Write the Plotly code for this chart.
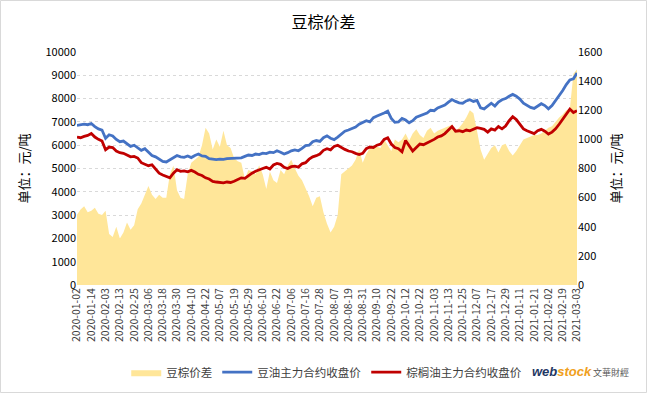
import plotly.graph_objects as go

# Tick labels (every 8th trading day)
tick_labels = [
    "2020-01-02", "2020-01-14", "2020-02-03", "2020-02-13", "2020-02-25", "2020-03-06",
    "2020-03-18", "2020-03-30", "2020-04-10", "2020-04-22", "2020-05-07", "2020-05-19",
    "2020-05-29", "2020-06-10", "2020-06-22", "2020-07-06", "2020-07-16", "2020-07-28",
    "2020-08-07", "2020-08-19", "2020-08-31", "2020-09-10", "2020-09-22", "2020-10-12",
    "2020-10-22", "2020-11-03", "2020-11-13", "2020-11-25", "2020-12-07", "2020-12-17",
    "2020-12-29", "2021-01-11", "2021-01-21", "2021-02-02", "2021-02-19", "2021-03-03",
]

# Values sampled every 2 trading days
soy_oil = [
    6850, 6870, 6900, 6880, 6930, 6800, 6700, 6650, 6300, 6450,
    6400, 6250, 6150, 6180, 6050, 5950, 6000, 5900, 5780, 5850,
    5700, 5560, 5500, 5380, 5300, 5280, 5380, 5450, 5560, 5500,
    5480, 5540, 5470, 5560, 5620, 5540, 5520, 5420, 5400, 5380,
    5400, 5390, 5420, 5430, 5450, 5480, 5460, 5520, 5580, 5560,
    5620, 5600, 5660, 5640, 5700, 5680, 5760, 5700, 5620, 5680,
    5760, 5800, 5760, 5860, 5980, 6000, 6150, 6200, 6160, 6320,
    6400, 6300, 6240, 6350, 6480, 6600, 6650, 6720, 6780, 6900,
    6980, 7050, 7000, 7180, 7250, 7300, 7380, 7460, 7150, 6980,
    7000, 7150, 7080, 6960, 7050, 7200, 7260, 7300, 7380, 7500,
    7480, 7600, 7650, 7720, 7850, 7960, 7880, 7820, 7800, 7900,
    7950, 7880, 7920, 7600, 7560, 7700, 7800, 7680, 7850, 7950,
    8000, 8100, 8180, 8100, 7980, 7800, 7700, 7620, 7580, 7700,
    7780, 7700, 7560, 7700, 7900, 8100, 8350, 8600, 8800, 8850,
    9100,
]

palm_oil = [
    6350, 6320, 6380, 6420, 6500, 6350, 6250, 6180, 5800, 5920,
    5900, 5750, 5680, 5650, 5580, 5500, 5520, 5450, 5250, 5200,
    5120, 5160, 4980, 4800, 4720, 4650, 4600, 4800, 4950, 4880,
    4900, 4860, 4920, 4850, 4750, 4700, 4600, 4550, 4450, 4420,
    4400, 4380, 4420, 4400, 4450, 4520, 4600, 4580, 4700, 4800,
    4880, 4950, 5000, 5050, 4980, 5150, 5220, 5180, 5050, 5000,
    5080, 5100, 5060, 5200, 5250, 5400, 5500, 5550, 5620, 5780,
    5850, 5800, 5950, 6000, 5900, 5820, 5750, 5720, 5650, 5600,
    5650, 5850, 5920, 5900, 6000, 6050, 6250, 6320, 6050, 5900,
    5850, 5720, 6200, 5950, 5750, 5900, 6050, 6020, 6100, 6150,
    6250, 6350, 6400, 6500, 6650, 6800, 6600, 6620, 6580, 6650,
    6620, 6700, 6750, 6720, 6680, 6560, 6700, 6650, 6800, 6700,
    6820, 7050, 7220, 7100, 6900, 6700, 6620, 6560, 6500, 6620,
    6680, 6600, 6480, 6560, 6700, 6900, 7100, 7350, 7550, 7400,
    7480,
]

spread = [
    483, 518, 540, 500, 510, 530, 490, 480, 510, 350,
    330, 400, 320, 360, 430, 380, 410, 520, 560, 620,
    680, 620, 590, 620, 600, 600, 760, 820, 650, 600,
    590, 760, 840, 860, 880, 960, 1080, 1040, 930, 1000,
    950, 1060, 960, 940, 870, 850, 840, 730, 790, 780,
    760, 820, 760, 660, 780, 720, 700, 790, 760, 820,
    860, 800, 750, 720, 670, 610, 540, 600, 610, 500,
    420, 360, 400, 480, 760, 780, 800, 820, 860, 930,
    840, 900, 940, 960, 950, 940, 1000, 960, 920, 1000,
    980, 1000, 1040, 990, 1040, 1070, 1030, 1010, 1060, 1080,
    1040, 1060, 1070, 1080, 1090, 1100, 1060, 1080, 1110, 1150,
    1200, 1180, 1060, 930, 860, 900, 940, 960, 910, 960,
    970, 920, 890, 920, 960, 1000, 1010, 1020, 1030, 1030,
    1040, 1060, 1080, 1090, 1120, 1150, 1170, 1200, 1210, 1450,
    1480,
]

step = 2
x_idx = [i * step for i in range(len(spread))]
tick_pos = [i * 8 for i in range(len(tick_labels))]

FONT = "Noto Sans CJK SC"

fig = go.Figure()
# Area (spread) on base axis y (drawn right side) so price lines (overlay y2) render on top
fig.add_trace(go.Scatter(
    x=x_idx, y=spread, name="豆棕价差", yaxis="y",
    mode="lines", line=dict(width=0, color="#FFE699"),
    fill="tozeroy", fillcolor="#FFE699",
))
fig.add_trace(go.Scatter(
    x=x_idx, y=soy_oil, name="豆油主力合约收盘价", yaxis="y2",
    mode="lines", line=dict(width=2.8, color="#4472C4"),
))
fig.add_trace(go.Scatter(
    x=x_idx, y=palm_oil, name="棕榈油主力合约收盘价", yaxis="y2",
    mode="lines", line=dict(width=2.8, color="#C00000"),
))

fig.update_layout(
    width=647, height=393,
    margin=dict(l=77, r=70, t=52, b=108, autoexpand=False),
    paper_bgcolor="white", plot_bgcolor="white",
    font=dict(family=FONT, size=11, color="#404040"),
    title=dict(text="豆棕价差", x=0.5, xanchor="center", y=0.944, yanchor="middle",
               font=dict(family=FONT, size=16, color="#000000")),
    showlegend=True,
    legend=dict(orientation="h", xref="container", yref="container",
                x=0.505, xanchor="center", y=0.053, yanchor="middle",
                font=dict(family=FONT, size=11.5, color="#404040"),
                itemwidth=30, tracegroupgap=0, bgcolor="rgba(0,0,0,0)"),
    xaxis=dict(
        range=[0, 280], tickmode="array", tickvals=tick_pos, ticktext=tick_labels,
        tickangle=-90, showgrid=False, zeroline=False, showline=False, automargin=False,
        ticks="", tickfont=dict(family=FONT, size=10.5, color="#404040"),
    ),
    yaxis=dict(
        range=[0, 1600], dtick=200, side="right", tickformat="d",
        showgrid=False, zeroline=False, showline=False, ticks="", automargin=False,
        tickfont=dict(family=FONT, size=11, color="#000000"),
        title=dict(text="单位：元/吨", font=dict(family=FONT, size=13, color="#000000"),
                   standoff=10),
    ),
    yaxis2=dict(
        range=[0, 10000], dtick=1000, overlaying="y", side="left", tickformat="d",
        showgrid=True, gridcolor="#D9D9D9", griddash="dot", gridwidth=1,
        zeroline=False, showline=False, ticks="", automargin=False,
        tickfont=dict(family=FONT, size=11, color="#000000"),
        title=dict(text="单位：元/吨", font=dict(family=FONT, size=13, color="#000000"),
                   standoff=12),
    ),
    shapes=[dict(type="rect", xref="paper", yref="paper",
                 x0=-0.153, x1=1.139, y0=-0.4614, y1=1.221,
                 line=dict(color="#D9D9D9", width=1), fillcolor="rgba(0,0,0,0)",
                 layer="below")],
    annotations=[
        dict(text="<b><i><span style='color:#1F3864'>web</span><span style='color:#F0A020'>stock</span></i></b>",
             xref="paper", yref="paper", x=0.97, y=-0.37, xanchor="center", yanchor="middle",
             showarrow=False, font=dict(family="Liberation Sans", size=13)),
        dict(text="文華財經", xref="paper", yref="paper", x=1.068, y=-0.375,
             xanchor="center", yanchor="middle", showarrow=False,
             font=dict(family=FONT, size=9, color="#595959")),
    ],
)

fig.write_html("out.html", config={"displayModeBar": False},
               post_script="document.body.style.margin='0';")
